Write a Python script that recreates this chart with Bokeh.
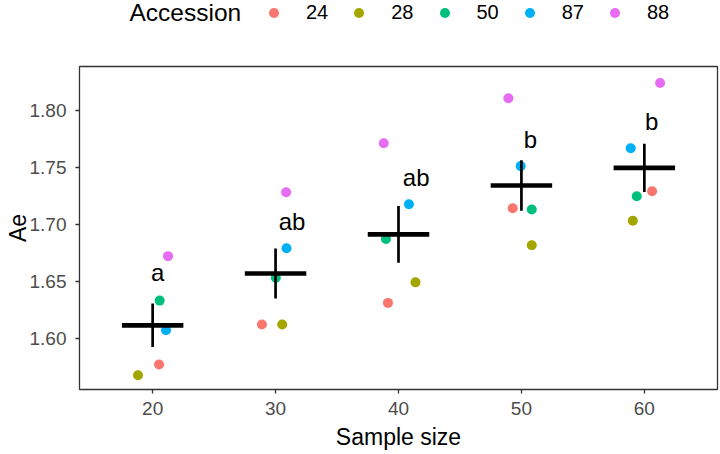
import numpy as np
from bokeh.plotting import figure
from bokeh.layouts import column
from bokeh.models import (ColumnDataSource, Legend, LegendItem, FixedTicker,
                          Range1d, PrintfTickFormatter, Label)
from bokeh.core.properties import value
from bokeh.embed import file_html
from bokeh.resources import INLINE

# ---- data -------------------------------------------------------------
sample_sizes = [20, 30, 40, 50, 60]
accessions = ["24", "28", "50", "87", "88"]
colors = ["#F8766D", "#A3A500", "#00BF7D", "#00B0F6", "#E76BF3"]

# jittered x position and Ae value of each accession, per sample size
x_24 = [20.52, 28.89, 39.14, 49.29, 60.63]
ae_24 = [1.577, 1.612, 1.631, 1.714, 1.729]
x_28 = [18.81, 30.54, 41.38, 50.84, 59.06]
ae_28 = [1.5675, 1.612, 1.649, 1.6815, 1.703]
x_50 = [20.57, 30.02, 38.98, 50.84, 59.38]
ae_50 = [1.633, 1.653, 1.687, 1.713, 1.7246]
x_87 = [21.09, 30.89, 40.85, 49.94, 58.89]
ae_87 = [1.607, 1.679, 1.7175, 1.751, 1.7667]
x_88 = [21.25, 30.86, 38.80, 48.94, 61.28]
ae_88 = [1.672, 1.728, 1.771, 1.8105, 1.824]

# significance letters
letters = ["a", "ab", "ab", "b", "b"]
letter_x = [20.41, 31.34, 41.44, 50.73, 60.60]
letter_y = [1.658, 1.702, 1.7407, 1.7745, 1.790]

y_ticks = [1.60, 1.65, 1.70, 1.75, 1.80]

# ---- summary: mean and standard error per sample size ------------------
all_ae = np.array([ae_24, ae_28, ae_50, ae_87, ae_88])
means = all_ae.mean(axis=0)
ses = all_ae.std(axis=0, ddof=1) / np.sqrt(all_ae.shape[0])

FONT = "Liberation Sans"
LEGEND_H = 30
FRAME_LEFT = 79

p = figure(frame_width=638, frame_height=323,
           x_range=Range1d(14.05, 65.95), y_range=Range1d(1.555, 1.8384),
           output_backend="svg", toolbar_location=None,
           min_border_left=FRAME_LEFT, min_border_right=3,
           min_border_top=66 - LEGEND_H, min_border_bottom=65,
           background_fill_color="white", border_fill_color="white")

p.xgrid.visible = False
p.ygrid.visible = False
p.outline_line_color = "#333333"
p.outline_line_width = 1.3

p.xaxis.ticker = FixedTicker(ticks=sample_sizes)
p.yaxis.ticker = FixedTicker(ticks=y_ticks)
p.yaxis.formatter = PrintfTickFormatter(format="%.2f")
p.xaxis.axis_label = "Sample size"
p.yaxis.axis_label = "Ae"

for ax in (p.xaxis[0], p.yaxis[0]):
    ax.axis_line_alpha = 0
    ax.major_tick_out = 4
    ax.major_tick_in = 0
    ax.minor_tick_out = 0
    ax.minor_tick_in = 0
    ax.major_tick_line_color = "#333333"
    ax.major_tick_line_width = 1.3
    ax.major_label_text_font = FONT
    ax.major_label_text_font_size = "19px"
    ax.major_label_text_color = "#4D4D4D"
    ax.axis_label_text_font = FONT
    ax.axis_label_text_font_size = "23px"
    ax.axis_label_text_font_style = "normal"
    ax.axis_label_text_color = "black"
p.xaxis.major_label_standoff = 8
p.xaxis.axis_label_standoff = 6
p.yaxis.major_label_standoff = 9
p.yaxis.axis_label_standoff = -4

# ---- points ------------------------------------------------------------
xs = [x_24, x_28, x_50, x_87, x_88]
ys = [ae_24, ae_28, ae_50, ae_87, ae_88]
sources = []
for col, xv, yv in zip(colors, xs, ys):
    src = ColumnDataSource(dict(x=xv, y=yv))
    sources.append(src)
    p.scatter("x", "y", source=src, size=10, fill_color=col,
              line_color=col, line_width=0)

# ---- mean bar and +/- SE ---------------------------------------------
bar_half = 2.5
sx = np.array(sample_sizes, dtype=float)
p.segment(x0=sx - bar_half, x1=sx + bar_half, y0=means, y1=means,
          line_color="black", line_width=4.7, line_cap="butt")
p.segment(x0=sx, x1=sx, y0=means - ses, y1=means + ses,
          line_color="black", line_width=2.7, line_cap="butt")

# ---- letters -----------------------------------------------------------
p.text(x=letter_x, y=letter_y, text=letters,
       text_font=value(FONT), text_font_size="24px",
       text_align="center", text_baseline="alphabetic", text_color="black")

# ---- legend strip on top ----------------------------------------------
# the strip's ranges keep its copies of the points out of view; only the
# legend is seen.  Its frame lines up with the main frame (left = 79 px).
lg = figure(width=720, height=LEGEND_H, output_backend="svg",
            toolbar_location=None, x_axis_location=None,
            y_axis_location=None, x_range=Range1d(1000, 1720),
            y_range=Range1d(0, 1), min_border=0,
            background_fill_color="white", border_fill_color="white")
lg.xgrid.visible = False
lg.ygrid.visible = False
lg.outline_line_color = None

items = []
for acc, col, src in zip(accessions, colors, sources):
    r = lg.scatter("x", "y", source=src, size=10, fill_color=col,
                   line_color=col, line_width=0)
    items.append(LegendItem(label=acc, renderers=[r]))

legend = Legend(items=items, orientation="horizontal",
                location=(261 - FRAME_LEFT, 5),
                glyph_width=25, glyph_height=25,
                label_standoff=20, spacing=18, padding=0, margin=0,
                border_line_alpha=0, background_fill_alpha=0,
                label_text_font=FONT, label_text_font_size="20px",
                label_text_color="black")
lg.add_layout(legend)

lg.add_layout(Label(x=129 - FRAME_LEFT, y=LEGEND_H - 12, x_units="screen",
                    y_units="screen", text="Accession",
                    text_font=FONT, text_font_size="24.5px",
                    text_baseline="middle", text_align="left",
                    text_color="black"))

layout = column(lg, p, spacing=0)
open("out.html", "w").write(file_html(layout, INLINE))
